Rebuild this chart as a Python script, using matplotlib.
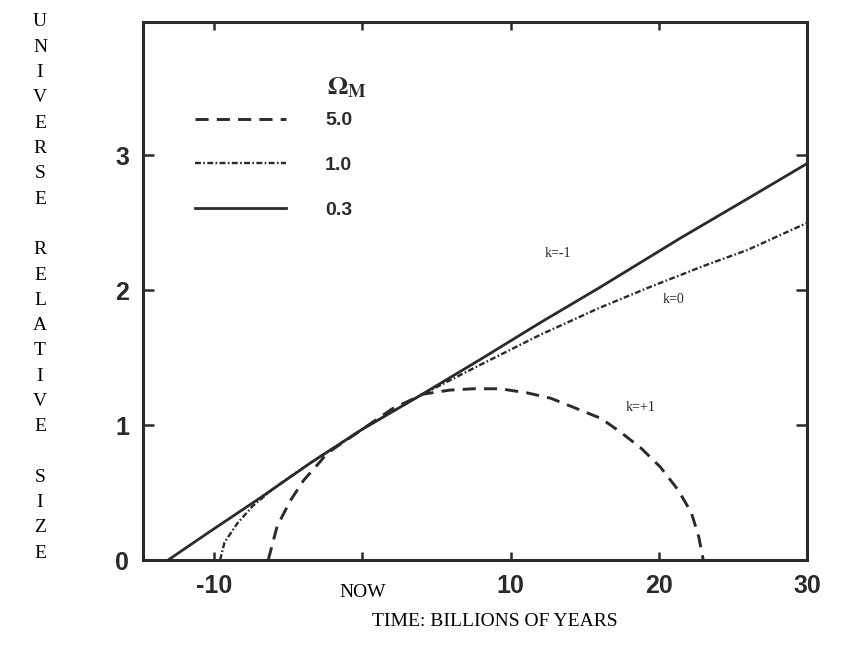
import matplotlib.pyplot as plt
from matplotlib.transforms import blended_transform_factory

# curvas (tiempo en Gyr desde hoy, tamaño relativo)
t_03 = [-13.1, -10.3, -6.9, -3.5, 0.0, 3.9, 8.0, 12.0, 16.0, 21.5, 26.0, 30.0]
a_03 = [0.0, 0.21, 0.46, 0.72, 0.97, 1.22, 1.49, 1.76, 2.02, 2.39, 2.68, 2.94]

t_10 = [-9.6, -9.3, -8.45, -7.4, -6.0, -5.1, -3.5, 0.0, 3.9, 8.0, 12.0, 16.0, 19.3, 23.0, 26.0, 30.0]
a_10 = [0.0, 0.13, 0.27, 0.40, 0.53, 0.60, 0.72, 0.97, 1.22, 1.45, 1.67, 1.87, 2.02, 2.18, 2.30, 2.50]

t_50 = [-6.35, -5.75, -4.86, -3.97, -2.84, -2.4, 0.0, 2.0, 4.1, 5.9, 7.5, 9.3, 11.1, 12.7,
        14.3, 16.1, 17.4, 18.8, 20.1, 21.3, 22.2, 22.7, 23.0]
a_50 = [0.0, 0.25, 0.44, 0.59, 0.73, 0.79, 0.97, 1.12, 1.23, 1.26, 1.27, 1.27, 1.24, 1.20,
        1.13, 1.05, 0.95, 0.83, 0.69, 0.52, 0.35, 0.17, 0.0]

etiquetas_omega = ["5.0", "1.0", "0.3"]
ticks_x = [-10, 0, 10, 20, 30]
labels_x = ["-10", "", "10", "20", "30"]
ticks_y = [0, 1, 2, 3]

negro = "#2a2a2a"

fig = plt.figure(figsize=(8.41, 6.49), dpi=100)
ax = fig.add_axes([143/841, 89/649, 664/841, 538/649])

ax.axhline(0, color="#d49a50", lw=1.2, zorder=1)
l5, = ax.plot(t_50, a_50, color=negro, lw=2.1, dashes=(4.5, 2.8))
l1, = ax.plot(t_10, a_10, color=negro, lw=1.7, dashes=(2.5, 1.0, 0.7, 1.0))
l3, = ax.plot(t_03, a_03, color=negro, lw=2.0)

ax.set_xlim(-14.8, 30)
ax.set_ylim(0, 3.99)
ax.set_xticks(ticks_x)
ax.set_xticklabels(labels_x)
ax.set_yticks(ticks_y)

for s in ax.spines.values():
    s.set_linewidth(2.2)
    s.set_color(negro)

ax.tick_params(direction="in", length=8, width=1.8, color=negro, top=True, right=True,
               labelsize=18, pad=10)
ax.tick_params(axis="x", length=6)
for lab in ax.get_xticklabels() + ax.get_yticklabels():
    lab.set_family("Liberation Sans")
    lab.set_fontweight("bold")
    lab.set_color(negro)

leg = ax.legend([l5, l1, l3], etiquetas_omega, loc="upper left",
                bbox_to_anchor=(0.078, 0.833), frameon=False, handlelength=4.7,
                handletextpad=2.0, labelspacing=1.4, borderpad=0, borderaxespad=0,
                prop={"family": "Liberation Sans", "weight": "bold", "size": 14})
for txt in leg.get_texts():
    txt.set_color(negro)

plt.rcParams["mathtext.fontset"] = "stix"
ax.text((327-143)/664, (560-87)/538, r"$\mathbf{\Omega}_{\mathbf{M}}$", transform=ax.transAxes,
        fontsize=19, color=negro, ha="left", va="center")

ax.text(13.2, 2.27, "k=-1", family="Liberation Serif", fontsize=10, ha="center", va="center", color=negro)
ax.text(21.0, 1.93, "k=0", family="Liberation Serif", fontsize=10, ha="center", va="center", color=negro)
ax.text(18.8, 1.13, "k=+1", family="Liberation Serif", fontsize=10, ha="center", va="center", color=negro)

trans = blended_transform_factory(ax.transData, ax.transAxes)
ax.text(0.05, -0.0595, "NOW", transform=trans, family="Liberation Serif", fontsize=14,
        ha="center", va="center", color="black")

fig.text(495/841, 1 - 622/649, "TIME: BILLIONS OF YEARS", family="Liberation Serif",
         fontsize=14, ha="center", va="center", color="black")

# etiqueta vertical, letra por letra
for i, ch in enumerate("UNIVERSE RELATIVE SIZE"):
    if ch != " ":
        fig.text(40/841, 1 - (22 + i*25.3)/649, ch, family="Liberation Serif",
                 fontsize=14, ha="center", va="center", color="black")

fig.savefig("out.png", dpi=100, facecolor="white")
